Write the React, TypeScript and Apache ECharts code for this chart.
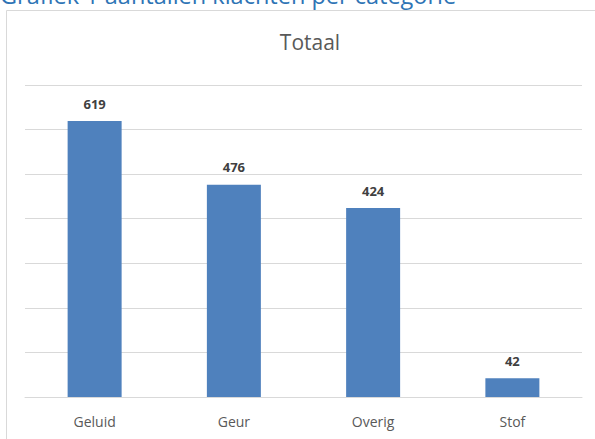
import React, { useEffect, useRef } from "react";
import * as echarts from "echarts";

const categories = ["Geluid", "Geur", "Overig", "Stof"];
const values = [619, 476, 424, 42];
const pageTitle = "Grafiek 1 aantallen klachten per categorie";
const chartTitle = "Totaal";

const FONT = "'Open Sans', sans-serif";

export default function App() {
  const ref = useRef<HTMLDivElement>(null);
  useEffect(() => {
    document.body.style.margin = "0";
    const chart = echarts.init(ref.current!, null, { renderer: "svg" });
    chart.setOption({
      animation: false,
      backgroundColor: "#ffffff",
      textStyle: { fontFamily: FONT },
      graphic: [
        {
          type: "rect",
          shape: { x: 6.5, y: 10.5, width: 620, height: 460 },
          style: { fill: "none", stroke: "#d9d9d9", lineWidth: 1 },
          silent: true,
        },
        {
          type: "text",
          left: 0,
          top: -17,
          style: {
            text: pageTitle,
            fill: "#2e74b5",
            font: "23.5px " + FONT,
          },
        },
      ],
      title: {
        text: chartTitle,
        left: 305,
        textAlign: "center",
        top: 26,
        textStyle: { color: "#595959", fontSize: 21, fontWeight: "normal", fontFamily: FONT },
      },
      grid: { left: 25, right: 13, top: 85, bottom: 42 },
      xAxis: {
        type: "category",
        data: categories,
        axisLine: { lineStyle: { color: "#d9d9d9" } },
        axisTick: { show: false },
        axisLabel: { color: "#595959", fontSize: 14, margin: 17, fontFamily: FONT },
      },
      yAxis: {
        type: "value",
        min: 0,
        max: 700,
        interval: 100,
        axisLabel: { show: false },
        axisLine: { show: false },
        axisTick: { show: false },
        splitLine: { lineStyle: { color: "#d9d9d9" } },
      },
      series: [
        {
          type: "bar",
          data: values,
          barWidth: 54,
          itemStyle: { color: "#4f81bd" },
          label: {
            show: true,
            position: "top",
            distance: 11,
            color: "#404040",
            fontSize: 13,
            fontWeight: "bold",
            fontFamily: FONT,
          },
        },
      ],
    });
    return () => chart.dispose();
  }, []);
  return <div ref={ref} style={{ position: "fixed", left: 0, top: 0, width: 595, height: 439 }} />;
}
